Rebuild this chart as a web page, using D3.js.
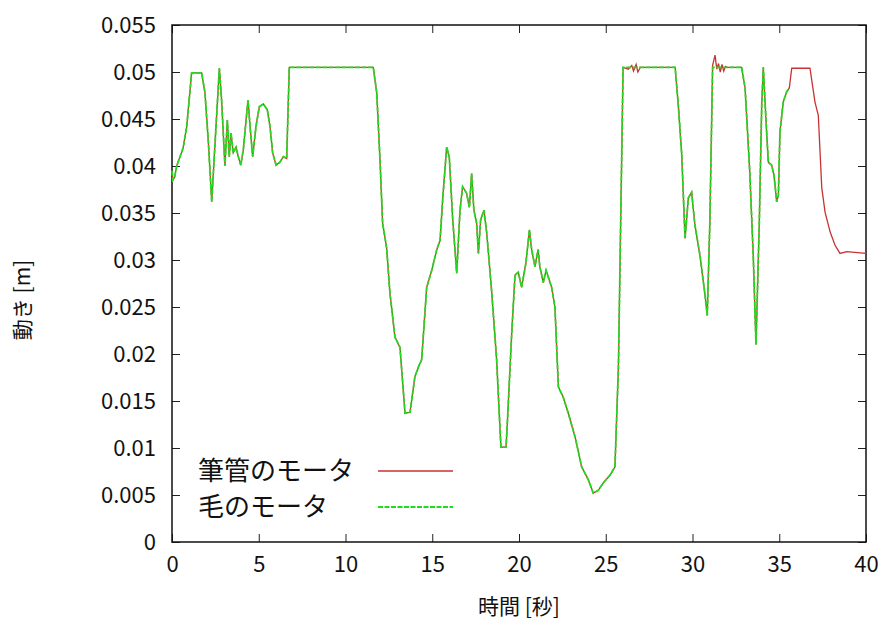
<!DOCTYPE html>
<html>
<head>
<meta charset="utf-8">
<script src="https://cdn.jsdelivr.net/npm/d3@7"></script>
<style>
  body { margin: 0; background: #fff; }
  text { font-family: "Noto Sans CJK JP", "DejaVu Sans", sans-serif; fill: #111; }
</style>
</head>
<body>
<script>
// both motors follow the same trace up to ~25.7 s
var sharedT = [0, 0.05, 0.15, 0.27, 0.64, 0.85, 1.13, 1.71, 1.9, 2.1, 2.29, 2.48, 2.73, 2.86, 3.05, 3.19, 3.3, 3.4, 3.53, 3.69, 3.82, 3.96, 4.11, 4.27, 4.38, 4.5, 4.65, 4.84, 5.03, 5.26, 5.49, 5.65, 5.8, 6.0, 6.22, 6.42, 6.61, 6.76,
  11.6, 11.8, 11.99, 12.14, 12.37, 12.56, 12.85, 13.14, 13.43, 13.72, 14.0, 14.2, 14.39, 14.68, 14.97, 15.26, 15.45, 15.6, 15.83, 15.98, 16.18, 16.41, 16.6, 16.75, 16.98, 17.14, 17.27, 17.4, 17.56, 17.66, 17.79, 17.98, 18.14, 18.43, 18.71, 18.9, 18.96, 19.25, 19.3, 19.58, 19.77, 19.96,
  20.15, 20.4, 20.6, 20.73, 20.92, 21.1, 21.2, 21.4, 21.56, 21.88, 22.07, 22.27, 22.55, 22.84, 23.23, 23.61, 24.0, 24.28, 24.57, 24.86, 25.24, 25.53, 25.73];
var sharedV = [0.0395, 0.0385, 0.0388, 0.0400, 0.0419, 0.0442, 0.0499, 0.0499, 0.0478, 0.0424, 0.0362, 0.0424, 0.0504, 0.0470, 0.0400, 0.0449, 0.0410, 0.0435, 0.0414, 0.0420, 0.0410, 0.0401, 0.0417, 0.0449, 0.0470, 0.0442, 0.0410, 0.0442, 0.0463, 0.0466, 0.0460, 0.0442, 0.0414, 0.0401, 0.0404, 0.0410, 0.0408, 0.0505,
  0.0505, 0.0478, 0.0406, 0.0339, 0.0313, 0.0265, 0.0218, 0.0207, 0.0137, 0.0138, 0.0176, 0.0186, 0.0194, 0.0271, 0.0289, 0.0311, 0.0321, 0.0364, 0.0420, 0.0410, 0.0343, 0.0286, 0.0353, 0.0378, 0.0371, 0.0356, 0.0392, 0.0353, 0.0339, 0.0307, 0.0343, 0.0353, 0.0329, 0.0265, 0.0194, 0.0122, 0.0101, 0.0101, 0.0116, 0.0222, 0.0284, 0.0287,
  0.0271, 0.0297, 0.0332, 0.0311, 0.0293, 0.0311, 0.0293, 0.0276, 0.0289, 0.0271, 0.0250, 0.0165, 0.0154, 0.0137, 0.0112, 0.0080, 0.0066, 0.0052, 0.0055, 0.0063, 0.0071, 0.0080, 0.0186];

// 毛のモータ after 25.7 s (trace stops near 35.6 s)
var hairTailT = [26.0, 29.0, 29.18, 29.38, 29.57, 29.76, 29.95, 30.14, 30.43, 30.72, 30.85, 31.0, 31.16, 32.83, 33.03, 33.3, 33.5, 33.66, 33.85, 33.99, 34.08, 34.24, 34.37, 34.56, 34.7, 34.85, 34.95, 35.04, 35.23, 35.43, 35.58];
var hairTailV = [0.0505, 0.0505, 0.0465, 0.0412, 0.0323, 0.0366, 0.0372, 0.0337, 0.0305, 0.0263, 0.0241, 0.0340, 0.0505, 0.0505, 0.0483, 0.0394, 0.0305, 0.0210, 0.0340, 0.0465, 0.0505, 0.0447, 0.0404, 0.0401, 0.0390, 0.0362, 0.0369, 0.0436, 0.0468, 0.0479, 0.0483];

// 筆管のモータ after 25.7 s
var tubeTailT = [26.0, 26.3, 26.5, 26.6, 26.75, 26.85, 27.0, 29.0, 29.18, 29.38, 29.57, 29.76, 29.95, 30.14, 30.43, 30.72, 30.85, 31.0, 31.16, 31.3, 31.4, 31.5, 31.6, 31.7, 31.8, 31.9, 32.0, 32.83, 33.03, 33.3, 33.5, 33.66, 33.85, 33.99, 34.08, 34.24, 34.37, 34.56, 34.7, 34.85, 34.95, 35.04, 35.23, 35.43, 35.58,
  35.72, 36.77, 37.06, 37.25, 37.45, 37.64, 37.93, 38.21, 38.5, 38.89, 40.0];
var tubeTailV = [0.0505, 0.0503, 0.0507, 0.0501, 0.0508, 0.0500, 0.0505, 0.0505, 0.0465, 0.0412, 0.0323, 0.0366, 0.0372, 0.0337, 0.0305, 0.0263, 0.0241, 0.0340, 0.0507, 0.0518, 0.0503, 0.0509, 0.0500, 0.0508, 0.0501, 0.0506, 0.0505, 0.0505, 0.0483, 0.0394, 0.0305, 0.0210, 0.0340, 0.0465, 0.0505, 0.0447, 0.0404, 0.0401, 0.0390, 0.0362, 0.0369, 0.0436, 0.0468, 0.0479, 0.0483,
  0.0504, 0.0504, 0.0468, 0.0454, 0.0377, 0.0351, 0.0330, 0.0316, 0.0307, 0.0309, 0.0307];

var xTicks = [0, 5, 10, 15, 20, 25, 30, 35, 40];
var yTicks = [0, 0.005, 0.01, 0.015, 0.02, 0.025, 0.03, 0.035, 0.04, 0.045, 0.05, 0.055];
var seriesNames = ["筆管のモータ", "毛のモータ"];
var seriesColors = ["#c83232", "#1fdc1f"];

var width = 887, height = 621;
var plotL = 172, plotR = 866, plotT = 25, plotB = 542;

var svg = d3.select("body")
            .append("svg")
            .attr("width", width)
            .attr("height", height);

var x = d3.scaleLinear().domain([0, 40]).range([plotL, plotR]);
var y = d3.scaleLinear().domain([0, 0.055]).range([plotB, plotT]);

function pts(ts, vs) {
    return ts.map(function(t, i) { return [t, vs[i]]; });
}
var tube = pts(sharedT.concat(tubeTailT), sharedV.concat(tubeTailV));
var hair = pts(sharedT.concat(hairTailT), sharedV.concat(hairTailV));

var line = d3.line()
    .x(function(d) { return x(d[0]); })
    .y(function(d) { return y(d[1]); });

// ticks (inward, mirrored)
var tickLen = 8;
svg.append("g")
   .attr("transform", "translate(0," + plotB + ")")
   .call(d3.axisBottom(x).tickValues(xTicks).tickSize(-tickLen).tickFormat(d3.format("d")).tickPadding(14))
   .call(function(g) { g.select(".domain").remove(); });
svg.append("g")
   .attr("transform", "translate(0," + plotT + ")")
   .call(d3.axisTop(x).tickValues(xTicks).tickSize(-tickLen).tickFormat(""))
   .call(function(g) { g.select(".domain").remove(); });
svg.append("g")
   .attr("transform", "translate(" + plotL + ",0)")
   .call(d3.axisLeft(y).tickValues(yTicks).tickSize(-tickLen).tickFormat(d3.format("~g")).tickPadding(16))
   .call(function(g) { g.select(".domain").remove(); });
svg.append("g")
   .attr("transform", "translate(" + plotR + ",0)")
   .call(d3.axisRight(y).tickValues(yTicks).tickSize(-tickLen).tickFormat(""))
   .call(function(g) { g.select(".domain").remove(); });

svg.selectAll(".tick text")
   .attr("font-family", "Noto Sans CJK JP, DejaVu Sans, sans-serif")
   .attr("font-size", "22px")
   .attr("fill", "#111");
svg.selectAll(".tick line").attr("stroke", "#222");

svg.append("rect")
   .attr("x", plotL).attr("y", plotT)
   .attr("width", plotR - plotL).attr("height", plotB - plotT)
   .attr("fill", "none").attr("stroke", "#111").attr("stroke-width", 1.5);

svg.append("path")
   .datum(tube)
   .attr("d", line)
   .attr("fill", "none")
   .attr("stroke", seriesColors[0])
   .attr("stroke-width", 1.3);

svg.append("path")
   .datum(hair)
   .attr("d", line)
   .attr("fill", "none")
   .attr("stroke", seriesColors[1])
   .attr("stroke-width", 1.8)
   .attr("stroke-dasharray", "5,1.5");

// legend
var legendY = [471, 507];
svg.selectAll(".legtext")
   .data(seriesNames)
   .enter()
   .append("text")
   .text(function(d) { return d; })
   .attr("x", 198)
   .attr("y", function(d, i) { return legendY[i] + 9; })
   .attr("font-size", "26px");
svg.selectAll(".legline")
   .data(seriesNames)
   .enter()
   .append("line")
   .attr("x1", 378).attr("x2", 453)
   .attr("y1", function(d, i) { return legendY[i]; })
   .attr("y2", function(d, i) { return legendY[i]; })
   .attr("stroke", function(d, i) { return seriesColors[i]; })
   .attr("stroke-width", function(d, i) { return i == 0 ? 1.6 : 1.8; })
   .attr("stroke-dasharray", function(d, i) { return i == 0 ? null : "5,1.5"; });

// axis titles
svg.append("text")
   .text("時間 [秒]")
   .attr("x", (plotL + plotR) / 2)
   .attr("y", 614)
   .attr("text-anchor", "middle")
   .attr("font-size", "21px");
svg.append("text")
   .text("動き [m]")
   .attr("transform", "translate(30,300) rotate(-90)")
   .attr("text-anchor", "middle")
   .attr("font-size", "21px");
</script>
</body>
</html>
